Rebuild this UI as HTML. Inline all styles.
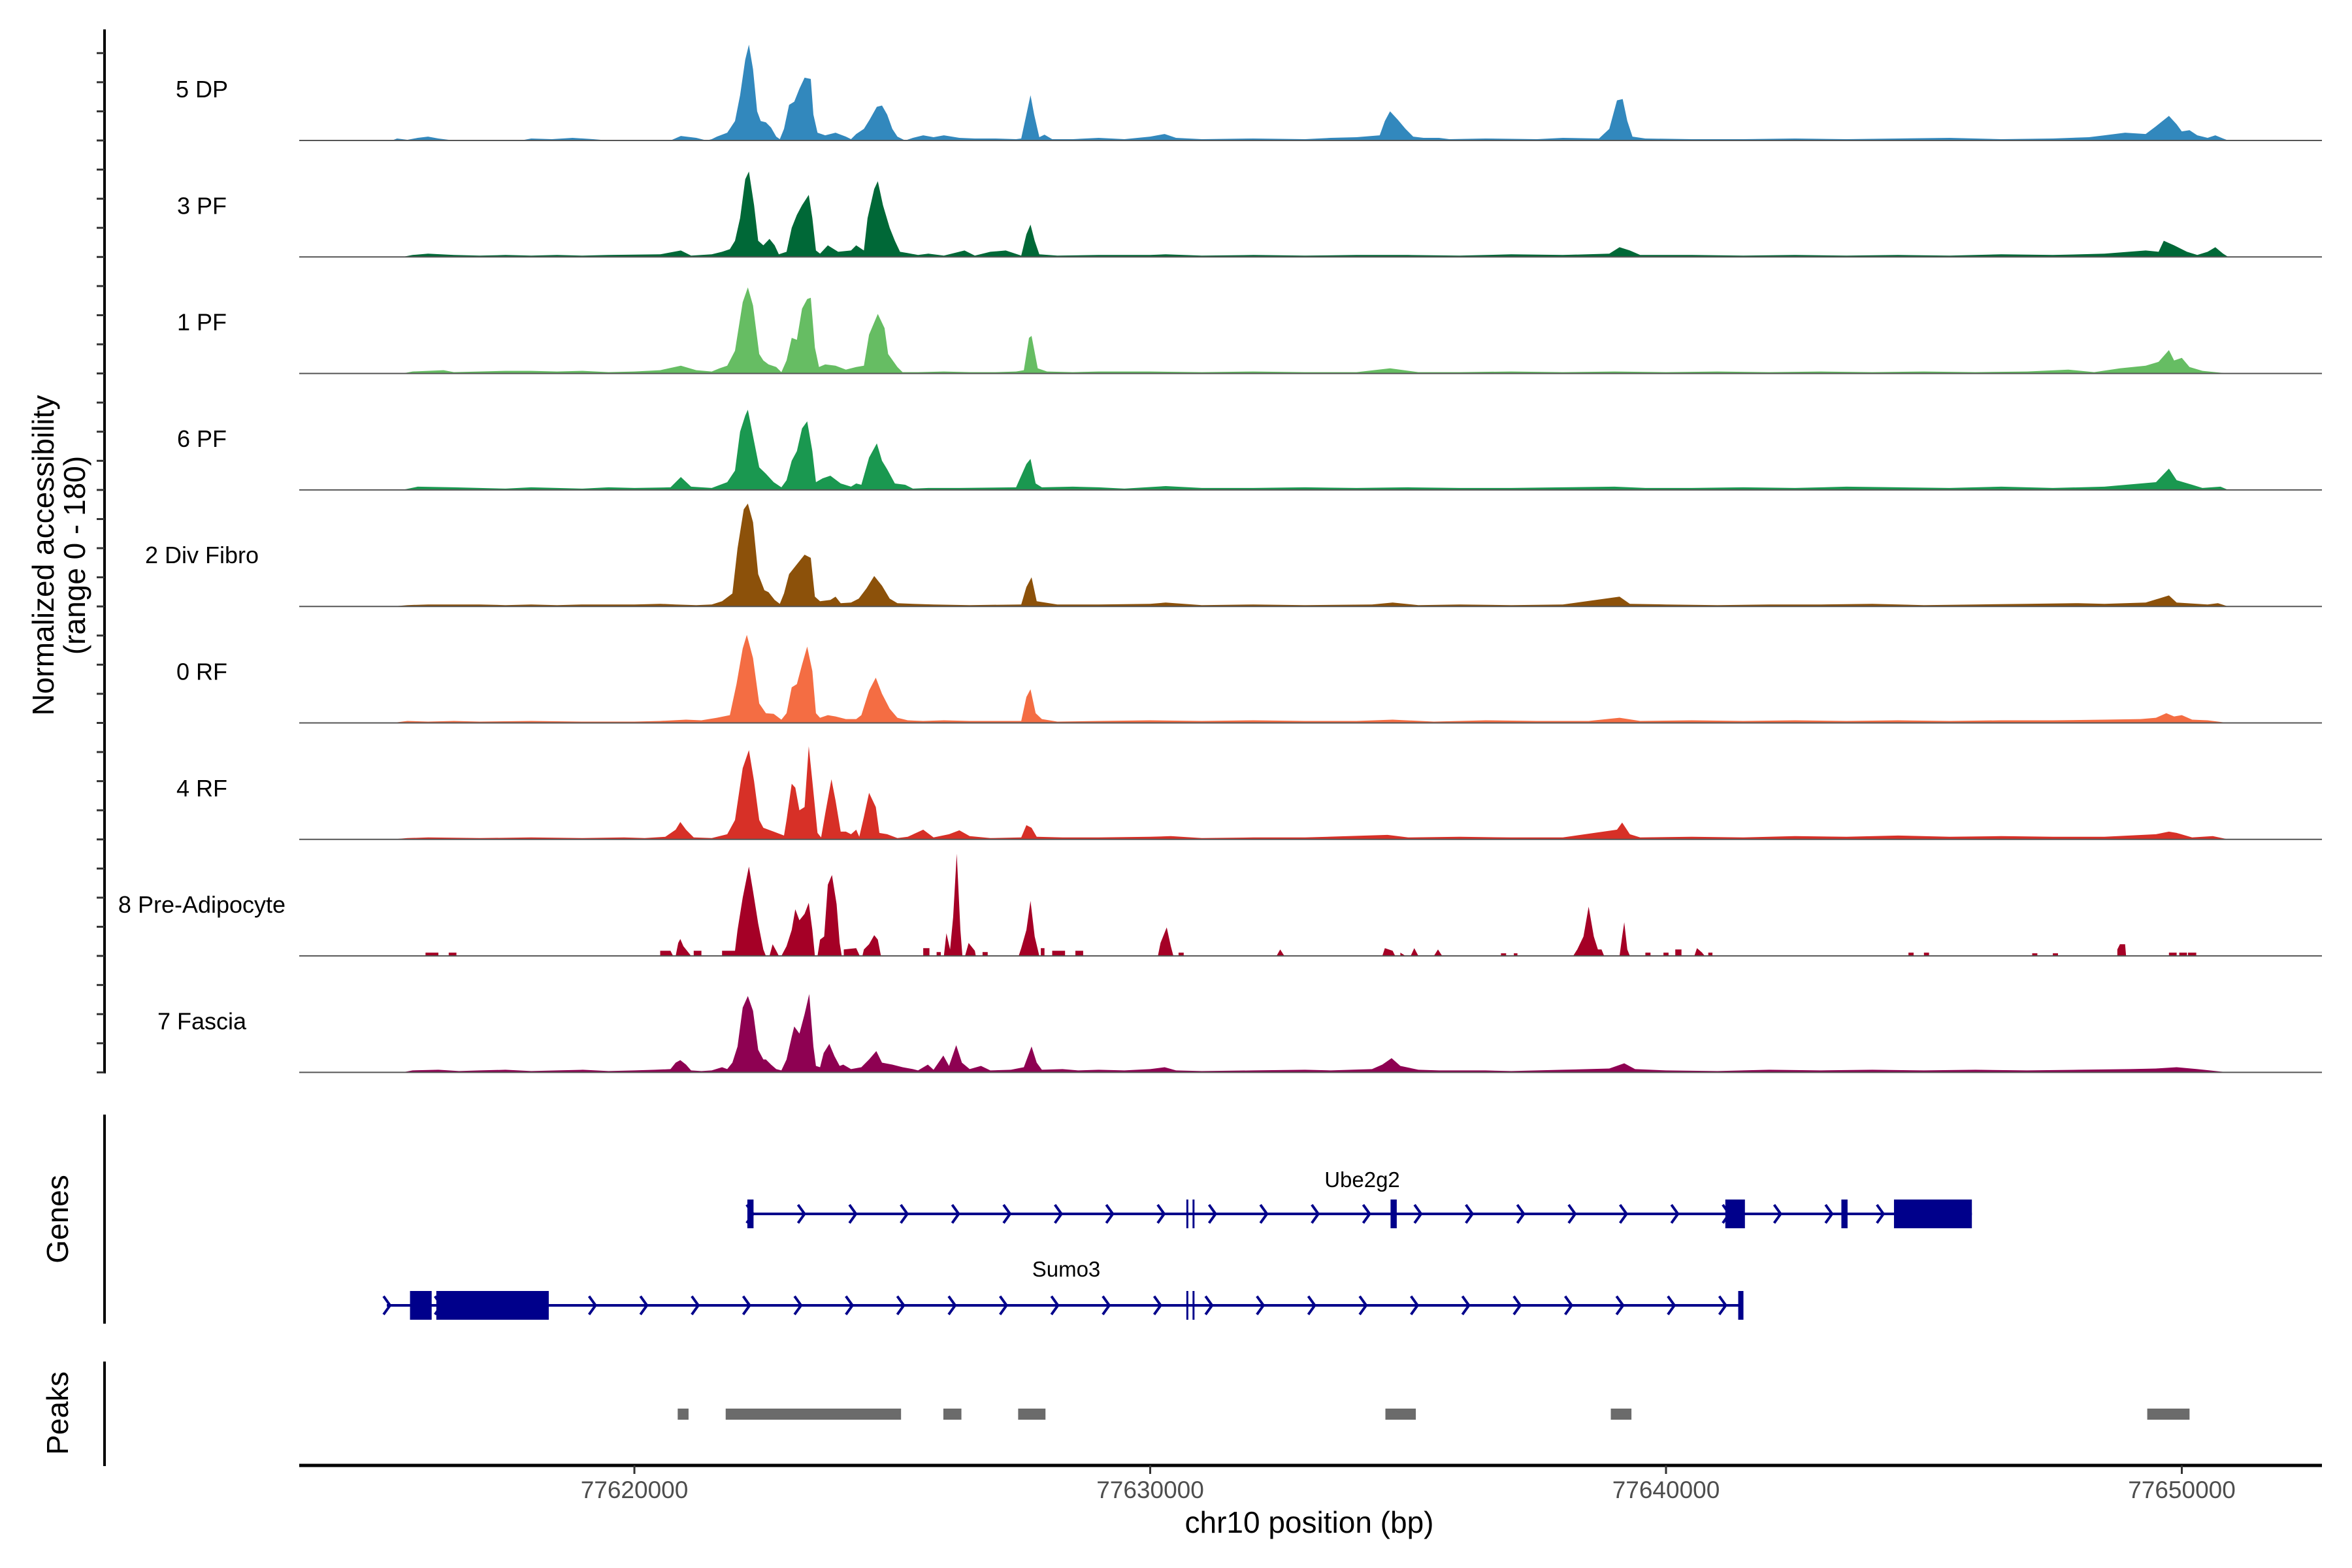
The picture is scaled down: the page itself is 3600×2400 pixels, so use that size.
<!DOCTYPE html>
<html><head><meta charset="utf-8">
<style>
html,body{margin:0;padding:0;background:#fff;}
svg{display:block;font-family:"Liberation Sans",Arial,sans-serif;}
</style></head>
<body>
<svg id="chart" width="3600" height="2400" viewBox="0 0 3600 2400" xmlns="http://www.w3.org/2000/svg">
<rect width="3600" height="2400" fill="#fff"/>
<g id="tracks"></g>
<g id="axes"></g>
<g id="genes"></g>
<g id="peaks"></g>
<text transform="translate(82,850) rotate(-90)" text-anchor="middle" font-size="46" fill="#000">Normalized accessibility</text>
<text transform="translate(130,850) rotate(-90)" text-anchor="middle" font-size="46" fill="#000">(range 0 - 180)</text>
<text transform="translate(104,1866) rotate(-90)" text-anchor="middle" font-size="46" fill="#000">Genes</text>
<text transform="translate(104,2163) rotate(-90)" text-anchor="middle" font-size="46" fill="#000">Peaks</text>
<text x="2004" y="2346" text-anchor="middle" font-size="46" fill="#000">chr10 position (bp)</text>
</svg>
<script>
// ---- data (positions in kb relative to 77,600,000; values 0-180) ----
const trackNames = ["5 DP","3 PF","1 PF","6 PF","2 Div Fibro","0 RF","4 RF","8 Pre-Adipocyte","7 Fascia"];
const trackColors = ["#3288bd","#006837","#66bd63","#1a9850","#8c510a","#f46d43","#d73027","#a50026","#8e0152"];
const dp = [[15.3,0],[15.4,3],[15.6,1],[15.8,4],[16.0,6],[16.2,3],[16.5,0],[17.8,0],[18.0,3],[18.4,2],[18.8,4],[19.2,2],[19.5,0],[20.7,0],[20.9,7],[21.2,4],[21.4,0],[21.5,2],[21.6,6],[21.8,12],[21.95,30],[22.05,70],[22.15,125],[22.22,148],[22.3,110],[22.38,45],[22.45,30],[22.55,28],[22.65,20],[22.75,6],[22.82,2],[22.9,18],[23.0,55],[23.1,60],[23.2,80],[23.3,97],[23.42,95],[23.47,40],[23.55,12],[23.7,8],[23.9,12],[24.1,6],[24.2,2],[24.3,10],[24.45,18],[24.56,32],[24.7,52],[24.8,54],[24.9,40],[25.0,18],[25.1,6],[25.25,0],[25.4,4],[25.6,8],[25.8,5],[26.0,8],[26.3,4],[26.6,3],[27.0,3],[27.4,2],[27.5,3],[27.6,40],[27.68,70],[27.75,40],[27.85,5],[27.95,9],[28.1,2],[28.5,2],[29.0,4],[29.5,2],[30.0,6],[30.28,10],[30.5,4],[31.0,2],[32.0,3],[33.0,2],[33.5,4],[34.0,5],[34.45,8],[34.55,30],[34.65,45],[34.8,32],[34.95,18],[35.1,6],[35.3,4],[35.6,4],[35.8,2],[36.5,3],[37.5,2],[38.0,4],[38.7,3],[38.9,18],[39.05,62],[39.16,64],[39.25,30],[39.35,6],[39.6,3],[40.5,2],[41.5,2],[42.5,3],[43.5,2],[44.5,3],[45.5,4],[46.5,2],[47.5,3],[48.2,5],[48.5,8],[48.9,12],[49.3,10],[49.5,22],[49.75,38],[49.9,25],[50.0,14],[50.15,16],[50.3,8],[50.5,4],[50.65,8],[50.8,3],[50.9,0]];
const pf3 = [[15.5,0],[15.7,3],[16.0,5],[16.5,3],[17.0,2],[17.5,3],[18.0,2],[18.5,3],[19.0,2],[19.5,3],[20.5,4],[20.9,10],[21.1,2],[21.5,4],[21.7,8],[21.85,12],[21.95,25],[22.05,60],[22.15,120],[22.22,132],[22.32,80],[22.4,25],[22.5,18],[22.62,28],[22.72,18],[22.8,4],[22.95,8],[23.05,45],[23.15,65],[23.25,80],[23.38,96],[23.45,60],[23.52,10],[23.6,5],[23.75,18],[23.95,8],[24.2,10],[24.3,18],[24.45,10],[24.52,60],[24.65,105],[24.72,117],[24.82,80],[24.95,45],[25.05,25],[25.15,8],[25.3,6],[25.5,3],[25.7,5],[26.0,2],[26.4,10],[26.6,2],[26.9,8],[27.2,10],[27.5,2],[27.6,35],[27.68,50],[27.76,25],[27.85,4],[28.2,2],[29.0,3],[30.0,3],[30.3,4],[31,2],[32,3],[33,2],[34,3],[35,3],[36,2],[37,4],[38,3],[38.9,5],[39.1,15],[39.3,10],[39.5,3],[40.5,3],[41.5,2],[42.5,3],[43.5,2],[44.5,3],[45.5,2],[46.5,4],[47.5,3],[48.5,5],[49.3,10],[49.55,8],[49.65,25],[49.85,18],[50.1,8],[50.3,3],[50.5,8],[50.65,15],[50.8,5],[50.9,0]];
const pf1 = [[15.5,0],[15.7,3],[16.3,5],[16.5,2],[17,3],[17.5,4],[18,4],[18.5,3],[19,4],[19.5,2],[20,3],[20.5,5],[20.9,12],[21.2,5],[21.5,3],[21.65,8],[21.8,12],[21.95,35],[22.1,110],[22.2,133],[22.3,105],[22.42,30],[22.5,20],[22.6,14],[22.75,10],[22.85,2],[22.95,20],[23.05,55],[23.15,52],[23.25,100],[23.35,115],[23.42,117],[23.5,40],[23.58,10],[23.7,14],[23.9,12],[24.1,6],[24.3,10],[24.45,12],[24.55,60],[24.72,92],[24.85,70],[24.92,30],[25.1,10],[25.2,2],[25.5,2],[26,3],[26.5,2],[27.0,2],[27.4,3],[27.55,5],[27.65,55],[27.7,58],[27.82,8],[28.0,3],[28.5,2],[29,3],[30,3],[31,2],[32,3],[33,2],[34,2],[34.65,8],[35.2,2],[36,2],[37,3],[38,2],[39,3],[40,2],[41,3],[42,2],[43,3],[44,2],[45,3],[46,2],[47,3],[47.8,6],[48.3,2],[48.8,8],[49.3,12],[49.55,18],[49.75,36],[49.85,20],[50.0,24],[50.15,10],[50.4,4],[50.9,0]];
const pf6 = [[15.5,0],[15.8,5],[16.5,4],[17,3],[17.5,2],[18,4],[18.5,3],[19,2],[19.5,4],[20,3],[20.7,4],[20.9,20],[21.1,5],[21.5,3],[21.8,12],[21.95,30],[22.05,90],[22.15,115],[22.2,124],[22.32,75],[22.42,35],[22.55,25],[22.7,12],[22.85,4],[22.95,15],[23.05,45],[23.15,60],[23.25,95],[23.35,106],[23.45,60],[23.52,12],[23.65,18],[23.8,22],[24.0,10],[24.2,5],[24.3,10],[24.4,8],[24.55,50],[24.7,72],[24.8,45],[24.9,32],[25.05,10],[25.25,8],[25.4,2],[25.7,3],[26.3,3],[27.4,4],[27.6,40],[27.68,48],[27.78,10],[27.9,4],[28.5,5],[29,4],[29.5,2],[30.3,6],[31,3],[32,3],[33,4],[34,3],[35,4],[36,3],[37,3],[38,4],[39,5],[39.6,3],[40.5,3],[41.5,4],[42.5,3],[43.5,5],[44.5,4],[45.5,3],[46.5,5],[47.5,3],[48.5,5],[49.5,12],[49.75,33],[49.9,15],[50.2,8],[50.4,3],[50.75,5],[50.9,0]];
const divFibro = [[15.3,0],[15.6,2],[16,3],[17,3],[17.5,2],[18,3],[18.5,2],[19,3],[20,3],[20.5,4],[20.8,3],[21.2,2],[21.5,3],[21.7,8],[21.9,20],[22.0,90],[22.12,150],[22.2,159],[22.3,130],[22.4,50],[22.52,25],[22.6,22],[22.72,10],[22.82,4],[22.9,20],[23.0,50],[23.15,65],[23.3,80],[23.42,75],[23.5,15],[23.6,8],[23.8,10],[23.9,15],[24.0,5],[24.2,6],[24.35,12],[24.5,28],[24.65,47],[24.8,32],[24.95,12],[25.1,5],[25.4,4],[25.8,3],[26.5,2],[27.5,3],[27.6,30],[27.7,45],[27.8,8],[28.2,3],[29,3],[30,4],[30.3,6],[31,2],[32,3],[33,2],[34.3,3],[34.7,6],[35.2,2],[36,3],[37,2],[38,3],[39.1,15],[39.3,4],[40,3],[41,2],[42,3],[43,3],[44,4],[45,2],[46,3],[47,4],[48,5],[48.5,4],[49.3,6],[49.75,17],[49.9,6],[50.5,3],[50.7,5],[50.9,0]];
const rf0 = [[15.3,0],[15.6,3],[16,2],[16.5,3],[17,2],[18,3],[19,2],[20,2],[20.5,3],[21.0,5],[21.3,4],[21.6,8],[21.85,12],[21.98,60],[22.1,115],[22.18,136],[22.3,100],[22.42,30],[22.55,15],[22.7,14],[22.85,5],[22.95,15],[23.05,55],[23.15,60],[23.25,90],[23.35,118],[23.45,80],[23.52,15],[23.6,8],[23.75,12],[23.9,10],[24.1,6],[24.3,6],[24.4,12],[24.55,50],[24.68,70],[24.8,45],[24.95,22],[25.1,8],[25.3,4],[25.6,3],[26,4],[26.5,3],[27,3],[27.5,3],[27.6,40],[27.68,52],[27.78,15],[27.9,6],[28.2,2],[29,3],[30,4],[31,3],[32,4],[33,3],[34,3],[34.7,5],[35.5,2],[36.5,4],[37.5,3],[38.5,3],[39.1,8],[39.5,3],[40.5,4],[41.5,3],[42.5,4],[43.5,3],[44.5,4],[45.5,3],[46.5,4],[47.5,4],[48.5,5],[49.2,6],[49.5,8],[49.7,15],[49.85,10],[50.0,12],[50.2,5],[50.5,4],[50.9,0]];
const rf4 = [[15.3,0],[15.6,2],[16,3],[17,2],[18,3],[19,2],[19.8,3],[20.2,2],[20.6,4],[20.8,15],[20.89,27],[21.0,15],[21.15,3],[21.5,2],[21.8,8],[21.95,30],[22.1,110],[22.22,138],[22.32,90],[22.42,30],[22.5,18],[22.7,12],[22.9,6],[22.95,30],[23.05,86],[23.12,80],[23.2,45],[23.3,50],[23.38,144],[23.45,90],[23.55,10],[23.62,3],[23.7,40],[23.82,93],[23.9,60],[24.0,12],[24.1,12],[24.2,8],[24.3,15],[24.36,4],[24.45,35],[24.55,72],[24.68,50],[24.75,10],[24.9,8],[25.1,2],[25.3,4],[25.6,15],[25.8,3],[26.1,8],[26.3,14],[26.5,5],[26.9,2],[27.5,3],[27.6,22],[27.7,18],[27.8,4],[28.3,3],[29,3],[30,4],[30.4,5],[31,2],[32,3],[33,3],[34.6,7],[35,3],[36,4],[37,3],[38,3],[39.05,15],[39.15,26],[39.3,8],[39.5,3],[40.5,4],[41.5,3],[42.5,5],[43.5,4],[44.5,6],[45.5,4],[46.5,5],[47.5,4],[48.5,4],[49.5,8],[49.75,12],[49.9,10],[50.2,3],[50.6,5],[50.9,0]];
const preAdipo = [[15.95,0],[15.95,5],[16.2,5],[16.2,0],[16.4,0],[16.4,5],[16.55,5],[16.55,0],[20.5,0],[20.5,8],[20.7,8],[20.75,0],[20.8,0],[20.85,20],[20.89,26],[20.95,15],[21.05,5],[21.1,0],[21.15,0],[21.15,8],[21.3,8],[21.3,0],[21.7,0],[21.7,8],[21.95,8],[22.0,40],[22.1,90],[22.22,138],[22.3,100],[22.4,50],[22.45,30],[22.5,10],[22.55,0],[22.62,0],[22.68,18],[22.75,8],[22.8,0],[22.85,0],[22.95,15],[23.05,40],[23.12,72],[23.2,55],[23.3,65],[23.38,82],[23.45,40],[23.5,0],[23.55,0],[23.6,25],[23.68,30],[23.75,110],[23.83,125],[23.92,80],[23.98,20],[24.02,0],[24.06,0],[24.06,10],[24.3,12],[24.37,0],[24.42,0],[24.45,10],[24.55,18],[24.65,32],[24.72,25],[24.78,0],[25.6,0],[25.6,12],[25.72,12],[25.72,0],[25.86,0],[25.86,6],[25.94,6],[25.94,0],[26.0,0],[26.05,35],[26.12,10],[26.18,60],[26.25,158],[26.32,40],[26.36,0],[26.41,0],[26.48,20],[26.6,8],[26.62,0],[26.75,0],[26.75,6],[26.85,6],[26.85,0],[27.45,0],[27.5,12],[27.6,40],[27.68,85],[27.76,30],[27.85,0],[27.88,0],[27.88,12],[27.95,12],[27.95,0],[28.1,0],[28.1,8],[28.35,8],[28.35,0],[28.55,0],[28.55,8],[28.7,8],[28.7,0],[30.15,0],[30.2,20],[30.32,44],[30.4,15],[30.45,0],[30.55,0],[30.55,5],[30.65,5],[30.65,0],[32.45,0],[32.52,10],[32.6,0],[34.5,0],[34.55,12],[34.7,8],[34.75,0],[34.85,0],[34.85,5],[34.95,0],[35.05,0],[35.12,12],[35.2,0],[35.5,0],[35.58,10],[35.66,0],[36.8,0],[36.8,4],[36.9,4],[36.9,0],[37.05,0],[37.05,4],[37.12,4],[37.12,0],[38.2,0],[38.28,10],[38.4,30],[38.5,76],[38.6,30],[38.68,10],[38.75,10],[38.8,0],[39.1,0],[39.15,30],[39.19,52],[39.25,10],[39.3,0],[39.6,0],[39.6,5],[39.7,5],[39.7,0],[39.95,0],[39.95,5],[40.05,5],[40.05,0],[40.18,0],[40.18,10],[40.3,10],[40.3,0],[40.55,0],[40.6,12],[40.7,5],[40.75,0],[40.82,0],[40.82,5],[40.9,5],[40.9,0],[44.7,0],[44.7,5],[44.8,5],[44.8,0],[45.0,0],[45.0,5],[45.1,5],[45.1,0],[47.1,0],[47.1,4],[47.2,4],[47.2,0],[47.5,0],[47.5,4],[47.6,4],[47.6,0],[48.75,0],[48.75,10],[48.8,18],[48.9,18],[48.92,0],[49.75,0],[49.75,5],[49.9,5],[49.9,0],[49.95,0],[49.95,5],[50.1,5],[50.1,0],[50.12,0],[50.12,5],[50.28,5],[50.28,0]];
const fascia = [[15.5,0],[15.7,3],[16.2,4],[16.6,2],[17.0,3],[17.5,4],[18.0,2],[18.5,3],[19.0,4],[19.5,2],[20.0,3],[20.4,4],[20.7,5],[20.8,15],[20.89,19],[21.0,12],[21.1,3],[21.3,2],[21.5,3],[21.7,8],[21.8,5],[21.9,15],[22.0,40],[22.1,100],[22.2,118],[22.3,95],[22.4,35],[22.5,20],[22.55,20],[22.65,12],[22.75,5],[22.85,3],[22.95,20],[23.05,55],[23.1,71],[23.2,60],[23.3,90],[23.39,121],[23.47,40],[23.52,10],[23.6,8],[23.67,30],[23.78,44],[23.88,25],[23.98,10],[24.05,12],[24.2,5],[24.4,8],[24.55,20],[24.69,33],[24.8,15],[25.0,12],[25.2,8],[25.4,5],[25.5,3],[25.69,12],[25.8,4],[25.99,26],[26.1,10],[26.24,42],[26.35,15],[26.5,5],[26.72,10],[26.9,3],[27.3,4],[27.55,8],[27.7,40],[27.8,15],[27.9,4],[28.3,5],[28.6,3],[29.0,4],[29.5,3],[30.0,5],[30.28,8],[30.5,3],[31,2],[32,3],[33,4],[33.5,3],[34.3,5],[34.5,12],[34.68,22],[34.85,10],[35.2,4],[35.6,3],[36.5,3],[37,2],[38,4],[38.9,6],[39.19,14],[39.4,5],[40,3],[41,2],[42,4],[43,3],[44,4],[45,3],[46,4],[47,3],[48,4],[49,5],[49.5,6],[49.9,8],[50.3,5],[50.9,0]];
const trackData = [dp, pf3, pf1, pf6, divFibro, rf0, rf4, preAdipo, fascia];

const xTicks = [20, 30, 40, 50];
const xTickLabels = ["77620000","77630000","77640000","77650000"];

const geneNames = ["Ube2g2","Sumo3"];
const geneStarts = [22.24, 15.2];
const geneEnds = [45.93, 41.5];
const geneExons = [
  [[22.19,22.31],[34.66,34.78],[41.15,41.53],[43.4,43.52],[44.42,45.93]],
  [[15.65,16.07],[16.16,18.34],[41.40,41.50]]
];
const geneBreaks = [[30.72,30.84],[30.72,30.84]];

const peakStarts = [20.84, 21.77, 25.99, 27.44, 34.56, 38.93, 49.33];
const peakEnds   = [21.05, 25.17, 26.34, 27.97, 35.15, 39.33, 50.15];

// ---- scales ----
const X0 = 971, PX_PER_KB = 78.95;
function xs(kb){ return X0 + (kb - 20) * PX_PER_KB; }
const BASE0 = 215, TRACK_H = 178.3, YMAX = 180;
function baseY(i){ return BASE0 + i * TRACK_H; }
function ys(i, v){ return baseY(i) - v / YMAX * TRACK_H; }

const NS = "http://www.w3.org/2000/svg";
function mk(tag, attrs, parent){
  const el = document.createElementNS(NS, tag);
  for (const k in attrs) el.setAttribute(k, attrs[k]);
  parent.appendChild(el);
  return el;
}

// ---- tracks ----
const gT = document.getElementById('tracks');
trackData.forEach((pts, i) => {
  const g = mk('g', {}, gT);
  
  
  let d = 'M' + xs(pts[0][0]).toFixed(1) + ',' + baseY(i).toFixed(1);
  pts.forEach(p => { d += 'L' + xs(p[0]).toFixed(1) + ',' + ys(i, p[1]).toFixed(1); });
  d += 'L' + xs(pts[pts.length-1][0]).toFixed(1) + ',' + baseY(i).toFixed(1) + 'Z';
  const area = mk('path', {d: d, fill: trackColors[i], stroke: 'none'}, g);
  
  
  const bl = mk('line', {x1: 458, x2: 3554, y1: baseY(i), y2: baseY(i), stroke: '#555', 'stroke-width': 2}, g);
  
  
  const lb = mk('text', {x: 309, y: baseY(i) - 66, 'text-anchor': 'middle', 'font-size': 36, fill: '#000'}, g);
  lb.textContent = trackNames[i];
  
  
});

// ---- axes ----
const gA = document.getElementById('axes');
const yl = mk('line', {x1:160, x2:160, y1:45, y2:1643, stroke:'#000', 'stroke-width':4}, gA);


for (let i = 0; i < trackNames.length; i++) {
  for (let j = 0; j < 4; j++) {
    const y = baseY(i) - j * TRACK_H / 4;
    if (y < 60) continue;
    const t = mk('line', {x1:148, x2:160, y1:y, y2:y, stroke:'#333', 'stroke-width':3}, gA);
    
    
  }
}
const gl = mk('line', {x1:160, x2:160, y1:1706, y2:2026, stroke:'#000', 'stroke-width':4}, gA);


const pl = mk('line', {x1:160, x2:160, y1:2084, y2:2244, stroke:'#000', 'stroke-width':4}, gA);


const xl = mk('line', {x1:458, x2:3554, y1:2243, y2:2243, stroke:'#000', 'stroke-width':5}, gA);


xTicks.forEach((v, k) => {
  const t = mk('line', {x1:xs(v), x2:xs(v), y1:2243, y2:2256, stroke:'#333', 'stroke-width':3}, gA);
  
  
  const l = mk('text', {x:xs(v), y:2293, 'text-anchor':'middle', 'font-size':37, fill:'#4d4d4d'}, gA);
  l.textContent = xTickLabels[k];
  
  
});

// ---- genes ----
const gG = document.getElementById('genes');
const geneY = [1858, 1998];
const labelY = [1817, 1954];
geneNames.forEach((name, gi) => {
  const g = mk('g', {}, gG);
  
  
  const y = geneY[gi];
  const ln = mk('line', {x1:xs(geneStarts[gi]), x2:xs(geneEnds[gi]), y1:y, y2:y, stroke:'#00008b', 'stroke-width':4}, g);
  
  
  for (let p = geneStarts[gi]; p < geneEnds[gi] - 0.3; p += 0.996) {
    const ax = xs(p);
    const a = mk('path', {d:'M'+(ax-5)+','+(y-14)+'L'+(ax+5)+','+y+'L'+(ax-5)+','+(y+14), fill:'none', stroke:'#00008b', 'stroke-width':4}, g);
    
    
  }
  geneExons[gi].forEach(e => {
    const r = mk('rect', {x:xs(e[0]), y:y-22, width:Math.max(8, xs(e[1])-xs(e[0])), height:44, fill:'#00008b'}, g);
    
    
  });
  geneBreaks[gi].forEach(b => {
    const r = mk('rect', {x:xs(b)-1.5, y:y-22, width:3, height:44, fill:'#00008b'}, g);
    
    
  });
  const t = mk('text', {x:(gi===0?2085:1632), y:labelY[gi], 'text-anchor':'middle', 'font-size':33, fill:'#000'}, g);
  t.textContent = name;
  
  
});

// ---- peaks ----
const gP = document.getElementById('peaks');
peakStarts.forEach((s, k) => {
  const r = mk('rect', {x:xs(s), y:2156, width:xs(peakEnds[k])-xs(s), height:17, fill:'#6b6b6b'}, gP);
  
  
});
</script>
</body></html>
